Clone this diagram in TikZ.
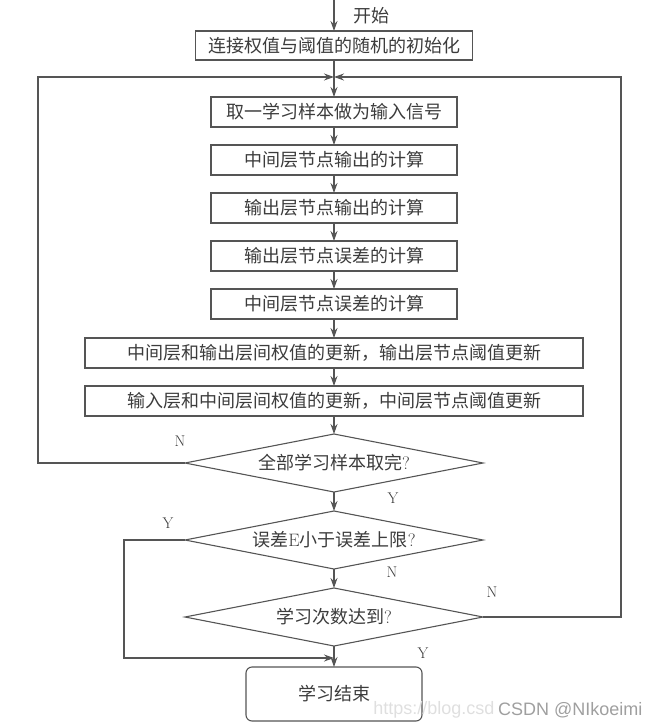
\documentclass[tikz,border=0pt]{standalone}
\usepackage{fontspec}
\usepackage{tikz}
\usetikzlibrary{positioning,shapes,arrows,arrows.meta}
\newfontfamily\cjk{Noto Sans CJK SC}
\newfontfamily\wmfont{Liberation Sans}
\definecolor{linegray}{RGB}{85,85,85}
\definecolor{textgray}{RGB}{60,60,60}

\begin{document}
\begin{tikzpicture}[%BP training flow chart
  x=1pt, y=-1pt, node distance=18pt,
  every node/.style={text=textgray},
  cjktext/.style={font=\cjk\fontsize{18}{20}\selectfont},
  procbox/.style={rectangle, draw=linegray, line width=1.1pt, outer sep=0pt, minimum height=30pt, inner sep=0pt, cjktext},
  decnode/.style={diamond, draw=linegray, line width=1.1pt, outer sep=0pt, aspect=5.1, inner sep=0pt, minimum width=298pt, minimum height=58pt, cjktext},
  endnode/.style={procbox, rounded corners=6pt, minimum width=176pt, minimum height=54pt},
  yn/.style={font=\fontsize{15.5}{17}\selectfont},
  flow/.style={line width=1.1pt, draw=linegray, -{Stealth[length=10pt, width=7pt]}}
]
\useasboundingbox (0,0) rectangle (658,726);

%Nodes
\node[procbox, minimum width=277pt, minimum height=29pt] (init) at (334,45.5) {连接权值与阈值的随机的初始化};
\node[procbox, minimum width=246pt, below=37pt of init] (sample) {取一学习样本做为输入信号};
\node[procbox, minimum width=246pt, below=of sample] (hidout) {中间层节点输出的计算};
\node[procbox, minimum width=246pt, below=of hidout] (outout) {输出层节点输出的计算};
\node[procbox, minimum width=246pt, below=of outout] (outerr) {输出层节点误差的计算};
\node[procbox, minimum width=246pt, below=of outerr] (hiderr) {中间层节点误差的计算};
\node[procbox, minimum width=498pt, below=19pt of hiderr] (updout) {中间层和输出层间权值的更新，输出层节点阈值更新};
\node[procbox, minimum width=498pt, below=of updout] (updhid) {输入层和中间层间权值的更新，中间层节点阈值更新};
\node[decnode, below=of updhid] (alldone) {全部学习样本取完{\rmfamily ?}};
\node[decnode, below=19pt of alldone] (errok) {误差{\rmfamily E}小于误差上限{\rmfamily ?}};
\node[decnode, below=19pt of errok] (epochs) {学习次数达到{\rmfamily ?}};
\node[endnode, below=21pt of epochs] (stop) {学习结束};

%Helper points
\coordinate (top) at (334,0);
\coordinate (join) at (334,77);
\coordinate (merge) at (334,658);
\coordinate (lside) at (38,0);
\coordinate (rside) at (621,0);
\coordinate (yside) at (124,0);

%Arrows
\draw[flow] (top) -- node[cjktext, right=16pt]{开始} (init);
\draw[flow] (init) -- (sample);
\draw[flow] (sample) -- (hidout);
\draw[flow] (hidout) -- (outout);
\draw[flow] (outout) -- (outerr);
\draw[flow] (outerr) -- (hiderr);
\draw[flow] (hiderr) -- (updout);
\draw[flow] (updout) -- (updhid);
\draw[flow] (updhid) -- (alldone);
\draw[flow] (alldone) -- (errok);
\draw[flow] (errok) -- (epochs);
\draw[flow] (epochs) -- (stop);
\draw[flow] (alldone.west) -- (alldone.west -| lside) |- (join);
\draw[flow] (epochs.east) -- (epochs.east -| rside) |- (join);
\draw[flow] (errok.west) -- (errok.west -| yside) |- (merge);

%Labels
\node[yn] (n1) at (180,441) {N};
\node[yn] (y1) at (393,498) {Y};
\node[yn] (y2) at (168,523) {Y};
\node[yn] (n2) at (392,572) {N};
\node[yn] (n3) at (492,592) {N};
\node[yn] (y3) at (423,653) {Y};

%Watermark
\node[anchor=east, font=\wmfont\fontsize{18}{20}\selectfont, text=gray!75] (mark) at (646,710) {CSDN @NIkoeimi};
\node[anchor=east, inner xsep=0pt, font=\wmfont\fontsize{18}{20}\selectfont, text=gray!25] (url) at (mark.west) {https://blog.csd};
\end{tikzpicture}
\end{document}
